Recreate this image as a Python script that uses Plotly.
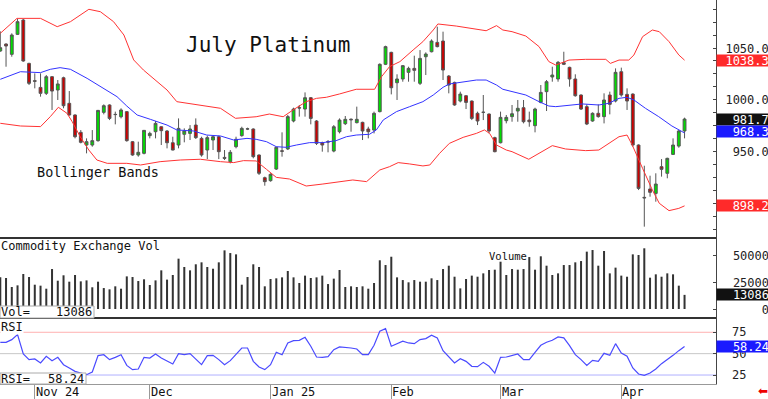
import plotly.graph_objects as go

# ---------------- data ----------------
opens = [1047.1, 1053.8, 1043.9, 1063.1, 1076.9, 1035.2, 1018.6, 1012.1, 1006.4, 1022.4,
         1009.6, 1021.4, 996.8, 985.6, 968.9, 956.7, 956.7, 960.9, 988.1, 995.2,
         986.2, 983.9, 988.8, 959.9, 947.1, 948.7, 965.7, 969.5, 974.3, 970.2,
         958.9, 956.7, 967.0, 967.9, 975.9, 963.1, 951.9, 961.5, 964.7, 944.8,
         940.7, 955.1, 965.7, 972.0, 972.1, 947.1, 925.3, 922.4, 933.6, 951.2,
         952.9, 979.8, 992.6, 991.3, 1002.2, 979.8, 959.0, 960.0, 950.9, 969.5,
         977.2, 981.5, 978.2, 978.5, 972.1, 971.1, 988.8, 1034.3, 1045.8, 1016.6,
         1020.2, 1026.6, 1030.4, 1016.0, 1041.6, 1046.4, 1055.4, 1056.7, 1023.0, 1016.9,
         999.0, 1004.1, 999.0, 987.2, 988.3, 986.5, 963.8, 958.9, 980.1, 984.0,
         989.4, 992.6, 980.7, 975.3, 997.7, 1008.0, 1022.1, 1020.2, 1035.9, 1031.4,
         1020.2, 1004.8, 993.6, 979.8, 987.2, 984.0, 1004.8, 999.0, 1027.2, 1005.4,
         1005.7, 956.7, 906.4, 914.4, 910.2, 935.9, 929.5, 947.7, 955.7, 970.2]
highs = [1066.0, 1054.5, 1064.1, 1077.9, 1077.9, 1035.8, 1025.6, 1025.6, 1024.0, 1023.0,
         1019.2, 1022.4, 1008.6, 986.2, 971.1, 963.1, 971.1, 990.4, 995.8, 995.8,
         988.8, 992.0, 989.4, 960.6, 959.9, 971.1, 969.5, 979.8, 974.6, 971.1,
         964.7, 982.3, 972.7, 975.9, 982.3, 964.7, 965.7, 965.7, 965.7, 951.9,
         951.9, 964.7, 974.3, 973.4, 972.7, 947.6, 926.3, 929.5, 955.1, 968.9,
         985.6, 992.6, 995.2, 1007.3, 1002.8, 980.7, 959.9, 961.5, 975.9, 982.3,
         984.6, 982.3, 993.6, 979.1, 974.3, 988.8, 1035.2, 1052.2, 1046.4, 1024.7,
         1033.6, 1032.0, 1042.6, 1048.0, 1045.8, 1058.3, 1070.5, 1065.7, 1024.0, 1017.6,
         1008.0, 1004.8, 999.5, 988.8, 1004.8, 987.0, 964.7, 988.8, 985.6, 995.2,
         1000.0, 1000.0, 988.8, 992.6, 1014.4, 1019.2, 1032.0, 1037.5, 1046.4, 1032.0,
         1024.7, 1005.4, 995.8, 988.1, 995.8, 1006.4, 1008.0, 1030.4, 1031.1, 1011.2,
         1006.4, 957.3, 936.8, 927.2, 929.5, 943.2, 944.5, 963.1, 971.1, 983.0]
lows = [1046.4, 1032.0, 1041.6, 1062.5, 1036.8, 1014.4, 1011.2, 1003.2, 1004.8, 990.4,
        1000.0, 992.0, 985.0, 963.1, 958.3, 948.7, 955.1, 959.9, 986.2, 980.7,
        976.6, 982.3, 959.9, 946.4, 945.5, 947.7, 963.1, 963.1, 956.7, 953.5,
        951.6, 953.5, 959.3, 961.5, 962.5, 945.5, 943.2, 951.9, 943.2, 942.3,
        939.1, 953.5, 964.7, 971.1, 943.9, 927.9, 917.6, 921.5, 932.7, 945.5,
        951.9, 978.5, 984.0, 984.0, 976.6, 956.7, 950.3, 949.7, 949.7, 967.9,
        975.9, 969.5, 977.5, 961.5, 963.1, 967.9, 988.1, 1033.6, 1005.4, 1000.0,
        1017.6, 1017.6, 1017.6, 1014.4, 1024.0, 1045.8, 1050.6, 1019.2, 1006.4, 994.5,
        997.7, 991.3, 980.7, 975.9, 980.7, 967.9, 949.7, 958.3, 977.5, 979.1,
        979.1, 977.5, 974.3, 968.9, 996.8, 989.4, 1017.6, 1017.6, 1033.6, 1012.8,
        1003.2, 990.4, 975.9, 979.1, 983.0, 977.5, 986.2, 997.7, 1003.2, 990.4,
        955.1, 913.4, 878.2, 907.0, 902.2, 926.3, 924.7, 947.1, 954.1, 963.1]
closes = [1050.3, 1051.9, 1062.5, 1075.3, 1037.5, 1016.0, 1018.0, 1006.4, 1022.4, 1008.6,
          1015.4, 994.5, 985.6, 964.7, 959.3, 959.9, 960.9, 990.0, 994.5, 982.3,
          986.0, 990.4, 960.9, 947.1, 949.7, 970.8, 967.9, 977.5, 970.5, 958.9,
          951.9, 972.7, 970.2, 972.1, 963.8, 947.1, 963.8, 964.7, 950.3, 943.9,
          949.7, 962.2, 972.7, 972.3, 945.5, 929.5, 921.5, 928.5, 954.5, 950.7,
          984.0, 991.3, 992.3, 1002.2, 982.3, 958.3, 956.7, 959.6, 974.3, 980.7,
          981.4, 981.0, 981.4, 970.2, 969.5, 987.2, 1034.3, 1051.3, 1011.8, 1020.2,
          1033.0, 1030.4, 1028.5, 1040.0, 1044.2, 1056.7, 1051.3, 1028.8, 1014.4, 995.2,
          1005.7, 997.7, 982.3, 979.8, 988.1, 970.2, 950.3, 983.3, 983.3, 986.8,
          992.0, 979.1, 979.1, 991.3, 1007.3, 1017.6, 1024.0, 1036.2, 1034.3, 1020.2,
          1004.1, 991.3, 976.9, 987.2, 984.0, 1000.0, 995.8, 1026.6, 1004.8, 999.0,
          956.7, 915.0, 905.9, 911.2, 919.2, 933.3, 943.9, 956.7, 970.2, 981.7]

volume = [29300, 28700, 20400, 21900, 32400, 29600, 22500, 21600, 18800, 37000,
          26200, 31200, 25300, 31500, 25600, 26500, 20100, 25300, 19400, 18200,
          21000, 18800, 30200, 29600, 25900, 27500, 22200, 26500, 35800, 27200,
          31500, 46600, 38900, 35800, 41400, 43200, 38900, 37300, 43200, 54300,
          51800, 50600, 22500, 29600, 41400, 38900, 21000, 27800, 28400, 29300,
          35200, 29300, 24100, 30900, 28700, 29300, 30900, 23100, 28100, 36100,
          20400, 21000, 20400, 21000, 18800, 24100, 45100, 40700, 48400, 29300,
          26800, 24700, 26800, 25300, 25300, 28400, 26800, 37000, 40100, 29900,
          19100, 27800, 30900, 29900, 33000, 36100, 36400, 43800, 31500, 37000,
          36400, 37000, 48100, 36400, 48800, 40100, 31500, 33000, 40700, 40700,
          43200, 44400, 53100, 54600, 40100, 53700, 33000, 38300, 30900, 29900,
          50600, 50000, 56200, 29000, 32100, 29900, 33000, 32100, 21600, 13086]

rsi = [63.3, 63.3, 66.4, 72.3, 49.6, 43.0, 43.8, 39.1, 46.9, 41.8,
       45.7, 37.1, 33.2, 29.3, 27.3, 25.4, 28.5, 47.7, 48.8, 43.0,
       45.7, 48.8, 36.3, 31.3, 32.0, 45.7, 44.9, 49.6, 44.9, 41.0,
       37.9, 50.0, 48.8, 50.0, 44.1, 37.1, 47.7, 48.0, 43.0, 37.1,
       41.8, 49.6, 56.6, 56.6, 41.0, 34.4, 31.3, 37.1, 51.6, 48.8,
       62.5, 65.2, 65.6, 69.1, 58.6, 46.1, 45.7, 46.5, 54.7, 57.8,
       57.4, 56.6, 55.5, 48.8, 48.8, 59.8, 76.2, 79.3, 58.6, 61.3,
       64.5, 62.5, 61.7, 66.4, 67.6, 71.5, 68.4, 53.5, 46.9, 39.1,
       44.1, 41.0, 35.2, 34.8, 39.8, 35.2, 27.3, 45.7, 46.1, 47.7,
       49.6, 43.0, 43.0, 51.6, 59.8, 63.3, 65.6, 69.5, 68.4, 59.4,
       48.8, 43.0, 36.3, 42.2, 41.0, 50.4, 48.0, 61.7, 50.8, 46.9,
       33.2, 26.2, 24.6, 27.3, 32.0, 38.3, 43.0, 48.0, 53.5, 58.24]

# Bollinger band lines, read as (bar position, value) points
upper_x = [0, 2.9, 7.0, 9.9, 12.2, 15.4, 17.4, 19.7, 21.5, 23.2, 24.9, 27.3, 29.0, 30.7,
           34.8, 38.3, 40.9, 42.9, 44.5, 46.8, 49.2, 50.9, 53.2, 55.0, 56.7, 59.0, 61.9,
           65.1, 66.3, 67.7, 69.5, 71.8, 73.5, 75.3, 76.1, 79.3, 82.2, 84.5, 86.3, 87.4,
           89.0, 91.4, 93.7, 95.4, 96.6, 98.9, 101.8, 105.3, 106.1, 107.6, 109.3, 110.2,
           111.7, 113.4, 114.6, 116.3, 118.0, 119.0]
upper_v = [1064.1, 1078.5, 1078.5, 1070.5, 1075.3, 1087.2, 1084.9, 1075.3, 1062.5, 1038.5,
           1028.8, 1017.6, 1009.6, 998.4, 995.2, 992.0, 982.4, 983.3, 983.9, 986.5, 983.9,
           990.4, 998.4, 1001.6, 1002.6, 1005.8, 1010.3, 1010.3, 1022.4, 1032.1, 1036.9,
           1048.1, 1056.1, 1067.3, 1073.1, 1071.1, 1068.9, 1066.6, 1071.5, 1067.3, 1065.7,
           1061.5, 1051.3, 1036.9, 1033.6, 1038.4, 1039.1, 1039.1, 1035.2, 1038.4, 1038.4,
           1043.3, 1060.9, 1067.3, 1065.7, 1056.1, 1043.3, 1038.3]
mid_x = [0, 2.3, 3.5, 7.0, 8.7, 10.4, 12.2, 15.1, 17.4, 20.3, 22.0, 23.8, 26.1, 29.0, 30.7,
         33.6, 35.9, 38.3, 40.6, 42.9, 44.5, 46.3, 48.0, 49.7, 51.5, 53.8, 56.1, 58.4, 60.2,
         61.9, 64.2, 65.4, 66.6, 68.9, 71.2, 73.5, 75.3, 77.0, 78.1, 80.5, 82.8, 84.5, 86.3,
         87.4, 89.0, 91.4, 93.7, 95.4, 96.6, 98.9, 101.2, 104.1, 105.8, 107.6, 109.0, 110.2,
         112.2, 114.5, 116.8, 119.0]
mid_v = [1019.9, 1025.0, 1027.2, 1026.3, 1029.5, 1031.1, 1029.5, 1020.8, 1012.8, 1003.2,
         994.2, 985.6, 981.4, 975.9, 971.2, 970.2, 966.3, 965.4, 961.5, 963.1, 962.2, 959.9,
         955.1, 954.5, 956.7, 959.0, 959.0, 960.9, 964.7, 966.3, 967.0, 971.2, 980.8, 988.8,
         993.6, 998.4, 1004.8, 1012.2, 1015.4, 1017.6, 1019.2, 1019.2, 1014.4, 1010.3,
         1008.0, 1004.8, 998.4, 994.2, 993.6, 995.2, 996.2, 995.2, 996.8, 1001.6, 1002.6,
         1000.0, 992.0, 984.0, 975.0, 968.3]
lower_x = [0, 3.5, 7.0, 8.7, 10.1, 11.6, 12.5, 13.9, 15.4, 16.8, 18.6, 22.0, 24.4, 27.8,
           31.3, 34.8, 38.3, 40.6, 42.3, 44.5, 46.3, 48.0, 50.3, 53.2, 56.1, 59.0, 61.3,
           63.7, 66.0, 67.7, 69.2, 71.2, 73.5, 74.7, 76.4, 78.1, 80.5, 82.8, 84.2, 85.1,
           86.3, 88.0, 89.0, 91.9, 94.3, 96.0, 98.3, 101.8, 104.1, 105.8, 107.6, 109.0,
           109.9, 111.7, 113.4, 114.6, 116.3, 118.0, 119.0]
lower_v = [977.6, 975.0, 974.4, 984.0, 993.0, 987.2, 979.2, 964.7, 951.9, 942.3, 939.1,
           939.1, 937.5, 940.7, 942.3, 943.0, 940.7, 939.8, 941.7, 941.4, 933.3, 925.6,
           924.0, 917.3, 919.2, 921.5, 923.1, 921.5, 932.7, 935.9, 939.8, 938.5, 936.6,
           937.5, 948.7, 958.3, 964.1, 967.9, 971.2, 967.9, 956.7, 951.9, 950.3, 943.0,
           950.3, 956.1, 952.9, 951.3, 951.9, 958.3, 964.7, 966.3, 956.7, 934.3, 913.5,
           900.7, 893.6, 895.8, 898.2]

month_idx = [6, 26, 47, 68, 87, 108]
month_text = ["Nov 24", "Dec", "Jan 25", "Feb", "Mar", "Apr"]
price_ticks = [1050, 1000, 950]
vol_ticks = [50000, 25000, 0]
rsi_ticks = [75, 50, 25]

title = "July Platinum"
bb_text = "Bollinger Bands"
vol_title = "Commodity Exchange Vol"

# ---------------- layout geometry ----------------
W, H = 768, 399
MR, MB = 52, 15
PW, PH = W - MR, H - MB      # plot area 716 x 384
MONO = "DejaVu Sans Mono"


def ypap(py):
    return (PH - py) / PH


def xpap(px):
    return px / PW


main_dom = [ypap(238), 1.0]
vol_dom = [ypap(318), ypap(238)]
rsi_dom = [0.0, ypap(318)]
price_range = [867.3, 1096.15]
vol_range = [-8333, 65741]
rsi_range = [14.5, 91.7]
x_range = [-0.05, 124.47]

idx = list(range(len(closes)))

fig = go.Figure()
fig.add_trace(go.Candlestick(
    x=idx, open=opens, high=highs, low=lows, close=closes,
    increasing=dict(fillcolor="#00dd00", line=dict(color="#555555", width=1)),
    decreasing=dict(fillcolor="#cc0000", line=dict(color="#555555", width=1)),
    xaxis="x", yaxis="y", hoverinfo="skip"))
fig.add_trace(go.Scatter(x=upper_x, y=upper_v, mode="lines",
                         line=dict(color="#ff3333", width=1), xaxis="x", yaxis="y"))
fig.add_trace(go.Scatter(x=lower_x, y=lower_v, mode="lines",
                         line=dict(color="#ff3333", width=1), xaxis="x", yaxis="y"))
fig.add_trace(go.Scatter(x=mid_x, y=mid_v, mode="lines",
                         line=dict(color="#3333ff", width=1), xaxis="x", yaxis="y"))
fig.add_trace(go.Bar(x=idx, y=volume, width=0.35, marker=dict(color="#333333", line=dict(width=0)),
                     xaxis="x2", yaxis="y2"))
fig.add_trace(go.Scatter(x=idx, y=rsi, mode="lines", line=dict(color="#4a4aff", width=1.2),
                         xaxis="x3", yaxis="y3"))

common_x = dict(range=x_range, showgrid=False, zeroline=False, showticklabels=False,
                domain=[0, 1])
common_y = dict(side="right", showgrid=False, zeroline=False, showticklabels=False,
                showline=True, linecolor="#444444", linewidth=1, ticks="inside",
                ticklen=3, tickcolor="#444444", tickwidth=1)

fig.update_layout(
    width=W, height=H, margin=dict(l=0, r=MR, t=0, b=MB),
    paper_bgcolor="white", plot_bgcolor="white", showlegend=False,
    font=dict(family=MONO, size=12, color="#111111"),
    xaxis=dict(**common_x, anchor="y", rangeslider=dict(visible=False)),
    xaxis2=dict(**common_x, anchor="y2", matches="x"),
    xaxis3=dict(**common_x, anchor="y3", matches="x", showline=True, linecolor="#999999",
                ticks="outside", ticklen=15, tickcolor="#999999", tickvals=month_idx),
    yaxis=dict(**common_y, domain=main_dom, anchor="x", range=price_range, tick0=0, dtick=12.5),
    yaxis2=dict(**common_y, domain=vol_dom, anchor="x2", range=vol_range, tick0=0, dtick=25000),
    yaxis3=dict(**common_y, domain=rsi_dom, anchor="x3", range=rsi_range, tick0=0, dtick=25),
)

shapes = []
# RSI reference levels
for lvl, col in zip(rsi_ticks, ["#ffb0b0", "#c8c8c8", "#b0b0ff"]):
    shapes.append(dict(type="line", xref="paper", x0=0, x1=1, yref="y3", y0=lvl, y1=lvl,
                       line=dict(color=col, width=1), layer="below"))
# panel separators
for yy in [main_dom[0], vol_dom[0]]:
    shapes.append(dict(type="line", xref="paper", x0=0, x1=1, yref="paper", y0=yy, y1=yy,
                       line=dict(color="#333333", width=2)))
# value boxes at the bottom left of the lower panels
shapes.append(dict(type="rect", xref="paper", x0=0, x1=xpap(94), yref="paper",
                   y0=ypap(318), y1=ypap(306), fillcolor="white",
                   line=dict(color="#aaaaaa", width=1)))
shapes.append(dict(type="rect", xref="paper", x0=0, x1=xpap(86), yref="paper",
                   y0=ypap(384), y1=ypap(373), fillcolor="white",
                   line=dict(color="#aaaaaa", width=1)))
fig.update_layout(shapes=shapes)

ann = []


def right_label(text, yref, y, width, bg=None, color="#222222", xshift=0, align="right"):
    d = dict(xref="paper", x=1, xanchor="left", yref=yref, y=y, yanchor="middle",
             text=text, showarrow=False, font=dict(family=MONO, size=12, color=color),
             align=align, borderpad=0, xshift=xshift)
    if width:
        d["width"] = width
        d["height"] = 11
    if bg:
        d["bgcolor"] = bg
    return d


for v in price_ticks:
    ann.append(right_label(f"{v:.2f}", "y", v, 59))
ann.append(right_label(f"{upper_v[-1]:.2f}", "y", upper_v[-1], 59, bg="#ff2a2a", color="white"))
ann.append(right_label(f"{closes[-1]:.2f}", "y", closes[-1], 59, bg="#111111", color="white"))
ann.append(right_label(f"{mid_v[-1]:.2f}", "y", mid_v[-1] + 1.5, 59, bg="#1a1aff", color="white"))
ann.append(right_label(f"{lower_v[-1]:.2f}", "y", lower_v[-1], 59, bg="#ff2a2a", color="white"))
for v in vol_ticks:
    ann.append(right_label(f"{v}", "y2", v, 52))
ann.append(right_label(f"{volume[-1]}", "y2", volume[-1], 52, bg="#111111", color="white"))
for v in rsi_ticks:
    ann.append(right_label(f"{v}", "y3", v, None, xshift=15))
ann.append(right_label(f"{rsi[-1]:.2f}", "y3", rsi[-1], 52, bg="#1a1aff", color="white"))

# chart texts
ann.append(dict(xref="paper", yref="paper", x=xpap(184), y=ypap(45), xanchor="left",
                yanchor="middle", text=title, showarrow=False,
                font=dict(family=MONO, size=21, color="#111111")))
ann.append(dict(xref="paper", yref="paper", x=xpap(35), y=ypap(172), xanchor="left",
                yanchor="middle", text=bb_text, showarrow=False,
                font=dict(family=MONO, size=13.5, color="#111111")))
ann.append(dict(xref="paper", yref="paper", x=0, y=ypap(246), xanchor="left",
                yanchor="middle", text=vol_title, showarrow=False, borderpad=0,
                font=dict(family=MONO, size=12, color="#111111")))
ann.append(dict(xref="paper", yref="paper", x=xpap(487), y=ypap(256), xanchor="left",
                yanchor="middle", text="Volume", showarrow=False,
                font=dict(family=MONO, size=10.5, color="#111111")))
ann.append(dict(xref="paper", yref="paper", x=0, y=ypap(327), xanchor="left",
                yanchor="middle", text="RSI", showarrow=False, bgcolor="white", borderpad=0,
                font=dict(family=MONO, size=12, color="#111111")))
# value box texts
ann.append(dict(xref="paper", yref="paper", x=0, y=ypap(312), xanchor="left",
                yanchor="middle", text="Vol=", showarrow=False, borderpad=0,
                font=dict(family=MONO, size=12, color="#111111")))
ann.append(dict(xref="paper", yref="paper", x=xpap(93), y=ypap(312), xanchor="right",
                yanchor="middle", text=f"{volume[-1]}", showarrow=False, borderpad=0,
                font=dict(family=MONO, size=12, color="#111111")))
ann.append(dict(xref="paper", yref="paper", x=0, y=ypap(378.5), xanchor="left",
                yanchor="middle", text="RSI=", showarrow=False, borderpad=0,
                font=dict(family=MONO, size=12, color="#111111")))
ann.append(dict(xref="paper", yref="paper", x=xpap(85), y=ypap(378.5), xanchor="right",
                yanchor="middle", text=f"{rsi[-1]:.2f}", showarrow=False, borderpad=0,
                font=dict(family=MONO, size=12, color="#111111")))
# month labels
for mi, mt in zip(month_idx, month_text):
    ann.append(dict(xref="x3", yref="paper", x=mi, y=ypap(391.5), xanchor="left",
                    yanchor="middle", text=mt, showarrow=False, borderpad=0,
                    font=dict(family=MONO, size=12, color="#111111")))
# red arrow bottom right
ann.append(dict(xref="paper", yref="paper", x=xpap(757), y=ypap(391), xanchor="left",
                yanchor="middle", text="\u2b05", showarrow=False, borderpad=0,
                font=dict(family="DejaVu Sans", size=12, color="#ee0000")))

fig.update_layout(annotations=ann)
fig.write_html("out.html", config={"displayModeBar": False},
               post_script="document.body.style.margin='0px';document.body.style.overflow='hidden';")
